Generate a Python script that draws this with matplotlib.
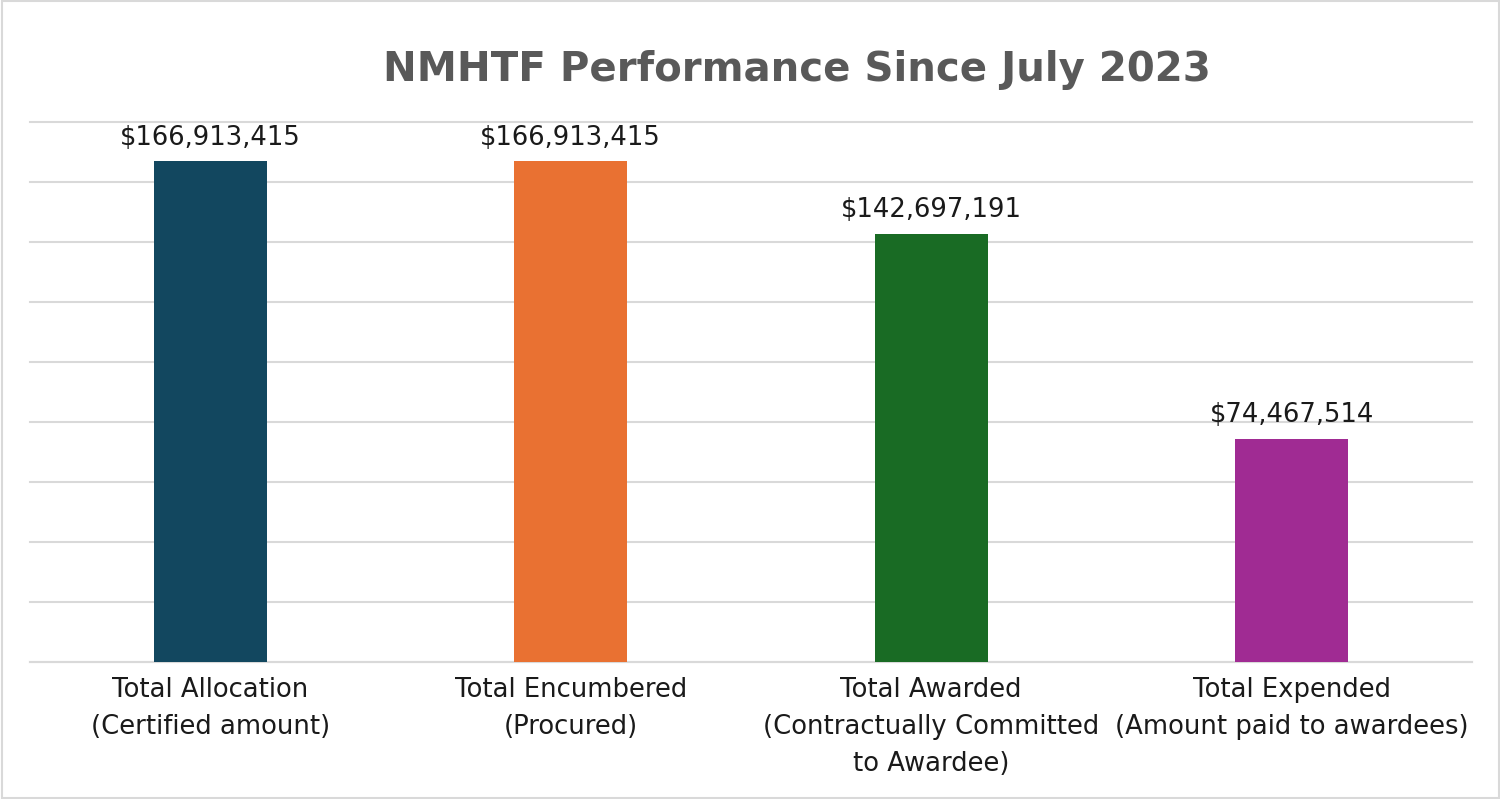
import matplotlib
matplotlib.use("Agg")
import matplotlib.pyplot as plt
from matplotlib.patches import Rectangle

categories = ["Total Allocation\n(Certified amount)",
              "Total Encumbered\n(Procured)",
              "Total Awarded\n(Contractually Committed\nto Awardee)",
              "Total Expended\n(Amount paid to awardees)"]
values = [166913415, 166913415, 142697191, 74467514]
colors = ["#12475F", "#E97132", "#196B24", "#A02B93"]
title = "NMHTF Performance Since July 2023"

plt.rcParams['font.family'] = ['DejaVu Sans']

fig = plt.figure(figsize=(15, 7.99), dpi=100)
ax = fig.add_axes([0.02, 0.1715, 0.9613, 0.6758])

x = list(range(len(values)))
ax.bar(x, values, width=0.314, color=colors, zorder=3)
ax.set_xlim(-0.5, 3.5)
ax.set_ylim(0, 180e6)
ax.set_yticks([i * 20e6 for i in range(10)])
ax.yaxis.grid(True, color="#d9d9d9", linewidth=1.5, zorder=0)
for gl in ax.get_ygridlines():
    gl.set_clip_on(False)
ax.set_yticklabels([])
ax.tick_params(axis='y', length=0)
ax.tick_params(axis='x', length=0, pad=10.5)
ax.set_xticks(x)
ax.set_xticklabels(categories, fontsize=18.6, linespacing=1.56, color="#1a1a1a")
for s in ['top', 'right', 'left']:
    ax.spines[s].set_visible(False)
ax.spines['bottom'].set_color("#d9d9d9")
ax.spines['bottom'].set_linewidth(1.5)
ax.set_axisbelow(True)

for xi, v in zip(x, values):
    ax.annotate(f"${v:,.0f}", (xi, v), xytext=(0, 12), textcoords="offset points",
                ha='center', va='baseline', fontsize=18.6, color="#1a1a1a")

fig.text(0.531, 0.899, title, ha='center', va='baseline', fontsize=29,
         fontweight='bold', color="#595959")

fig.patches.append(Rectangle((0.001, 0.001), 0.998, 0.998, transform=fig.transFigure,
                             fill=False, edgecolor="#d9d9d9", linewidth=1.5))

fig.savefig("out.png", dpi=100)
